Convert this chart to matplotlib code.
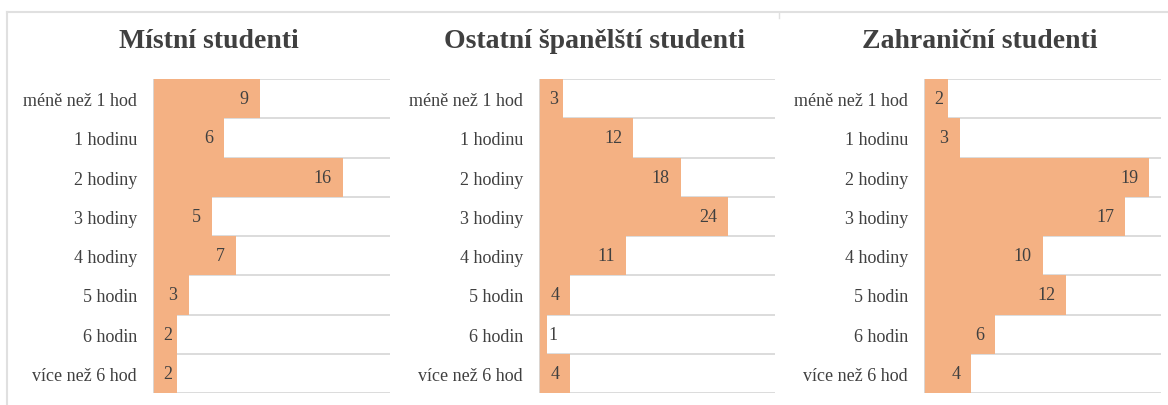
import matplotlib
matplotlib.use('Agg')
import matplotlib.pyplot as plt
from matplotlib.lines import Line2D
import numpy as np

plt.rcParams['font.family'] = ['Liberation Serif', 'DejaVu Serif']

# data
categories = ['méně než 1 hod', '1 hodinu', '2 hodiny', '3 hodiny',
              '4 hodiny', '5 hodin', '6 hodin', 'více než 6 hod']
titles = ['Místní studenti', 'Ostatní španělští studenti', 'Zahraniční studenti']
mistni = [9, 6, 16, 5, 7, 3, 2, 2]
ostatni = [3, 12, 18, 24, 11, 4, 1, 4]
zahranicni = [2, 3, 19, 17, 10, 12, 6, 4]
series = [mistni, ostatni, zahranicni]
xmax = [20, 30, 20]

bar_color = '#F4B183'
text_color = '#404040'
grid_color = '#D9D9D9'

W, H = 1168, 406
fig = plt.figure(figsize=(W / 100, H / 100), dpi=100)

# axes placement in pixels: (left, right)
spans = [(153, 390), (539, 775), (924, 1161)]
title_x = [209, 594, 980]
top_px, bot_px = 80, 394

for i, vals in enumerate(series):
    l, r = spans[i]
    ax = fig.add_axes([l / W, 1 - bot_px / H, (r - l) / W, (bot_px - top_px) / H])
    y = np.arange(len(categories))
    ax.barh(y, vals, height=1.0, color=bar_color, zorder=2)
    ax.set_xlim(0, xmax[i])
    ax.set_ylim(len(categories) - 0.5, -0.5)
    ax.hlines(np.arange(len(categories) + 1) - 0.5, 0, xmax[i],
              color=grid_color, lw=1.3, zorder=1)
    ax.axvline(0, color=grid_color, lw=1.3, zorder=3)
    for sp in ax.spines.values():
        sp.set_visible(False)
    ax.set_xticks([])
    ax.set_yticks(y)
    ax.set_yticklabels(categories, fontsize=13, color=text_color)
    ax.tick_params(axis='y', length=0, pad=11.5)
    # inside-end labels, pushed off the axis when the bar is short
    for yy, v in zip(y, vals):
        bar_px = v * (r - l) / xmax[i]
        right_px = max(bar_px - 11, 19)
        ax.annotate(str(v), (v, yy), xytext=((right_px - bar_px) * 0.72, 0),
                    textcoords='offset points', ha='right', va='center',
                    fontsize=13, color=text_color, zorder=4)
    fig.text(title_x[i] / W, 1 - 42 / H, titles[i], ha='center', va='center',
             fontsize=20, fontweight='bold', color=text_color)

# chart frame
fig.add_artist(Line2D([7 / W, 1], [1 - 13 / H, 1 - 13 / H], color='#E0E0E0', lw=1.5))
fig.add_artist(Line2D([7 / W, 7 / W], [0, 1 - 13 / H], color='#E0E0E0', lw=1.5))
fig.add_artist(Line2D([779 / W, 779 / W], [1 - 19 / H, 1 - 13 / H], color='#E0E0E0', lw=1.0))

fig.savefig('out.png', dpi=100, facecolor='white')
